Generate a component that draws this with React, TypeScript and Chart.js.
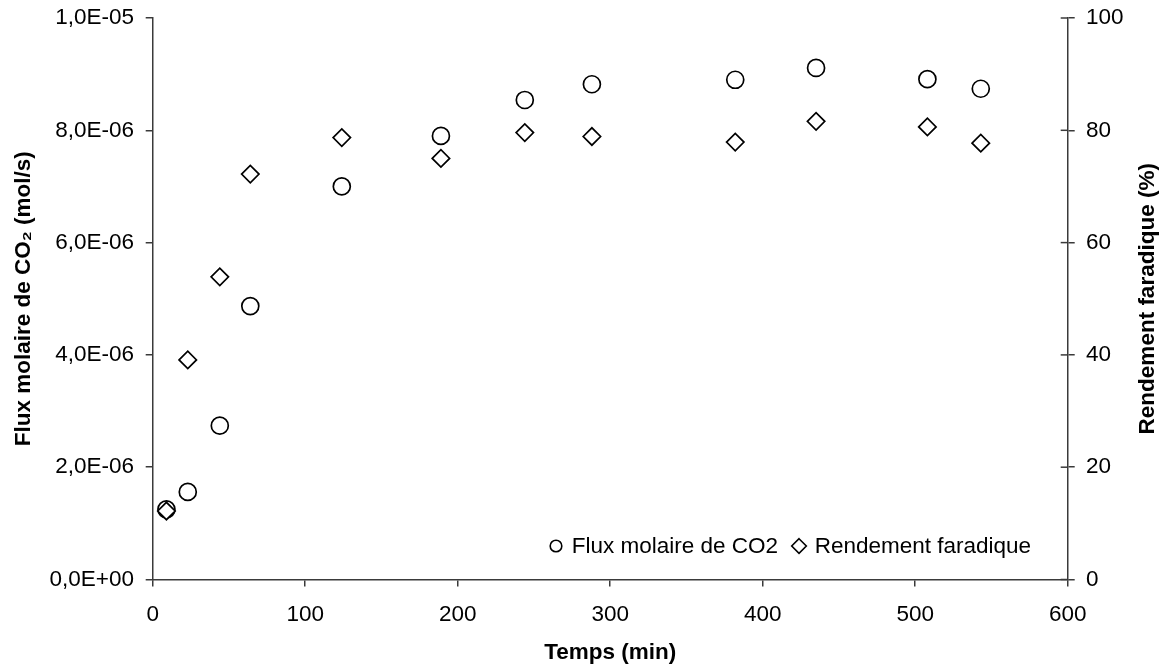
import { useEffect, useRef } from 'react';
import { Chart, registerables } from 'chart.js';

Chart.register(...registerables);

// ---- data ----
const timeMin = [9, 23, 44, 64, 124, 189, 244, 288, 382, 435, 508, 543];
const fluxCO2 = [1.25e-6, 1.56e-6, 2.74e-6, 4.87e-6, 7.0e-6, 7.9e-6, 8.54e-6, 8.82e-6, 8.9e-6, 9.11e-6, 8.91e-6, 8.74e-6];
const rendement = [12.2, 39.1, 53.9, 72.2, 78.7, 75.0, 79.6, 78.9, 77.9, 81.6, 80.6, 77.7];
const seriesLabels = ['Flux molaire de CO2', 'Rendement faradique'];
const xTitle = 'Temps (min)';
const yTitle = 'Flux molaire de CO₂ (mol/s)';
const y1Title = 'Rendement faradique (%)';
const xTicks = { min: 0, max: 600, step: 100 };
const yTicks = { min: 0, max: 1e-5, step: 2e-6 };
const y1Ticks = { min: 0, max: 100, step: 20 };

const FAMILY = '"Liberation Sans", Arial, Helvetica, sans-serif';
const FS = 22.5;
const AXIS = '#3a3a3a';

function sci(v: number): string {
  const [m, e] = v.toExponential(1).split('e');
  const n = parseInt(e, 10);
  const sign = n < 0 ? '-' : '+';
  return m.replace('.', ',') + 'E' + sign + String(Math.abs(n)).padStart(2, '0');
}

const extrasPlugin = {
  id: 'extras',
  afterDraw(chart: any) {
    const ctx = chart.ctx as CanvasRenderingContext2D;
    const area = chart.chartArea;
    ctx.save();
    // inner tick marks on the right axis (crossing ticks)
    const s = chart.scales.y1;
    ctx.strokeStyle = AXIS;
    ctx.lineWidth = 1.5;
    s.ticks.forEach((t: any) => {
      const py = s.getPixelForValue(t.value);
      ctx.beginPath();
      ctx.moveTo(area.right - 7, py);
      ctx.lineTo(area.right, py);
      ctx.stroke();
    });
    // right axis title, reading bottom to top
    ctx.save();
    ctx.font = `bold ${FS}px ${FAMILY}`;
    ctx.fillStyle = '#000';
    ctx.textAlign = 'center';
    ctx.textBaseline = 'middle';
    ctx.translate(chart.width - 18.5, (area.top + area.bottom) / 2);
    ctx.rotate(-Math.PI / 2);
    ctx.fillText(y1Title, 0, 0);
    ctx.restore();
    // legend inside plot area, bottom right
    ctx.font = `${FS}px ${FAMILY}`;
    ctx.fillStyle = '#000';
    ctx.strokeStyle = '#000';
    ctx.lineWidth = 1.6;
    ctx.textBaseline = 'middle';
    const y = area.bottom - 33.5;
    let x = area.left + 403.3;
    ctx.beginPath();
    ctx.arc(x, y, 5.8, 0, Math.PI * 2);
    ctx.stroke();
    const tx = x + 15.7;
    ctx.fillText(seriesLabels[0], tx, y + 1);
    const w = ctx.measureText(seriesLabels[0]).width;
    x = tx + w + 21;
    const r = 7.3;
    ctx.beginPath();
    ctx.moveTo(x, y - r);
    ctx.lineTo(x + r, y);
    ctx.lineTo(x, y + r);
    ctx.lineTo(x - r, y);
    ctx.closePath();
    ctx.stroke();
    ctx.fillText(seriesLabels[1], x + 15.7, y + 1);
    ctx.restore();
  },
};

export default function App() {
  const ref = useRef<HTMLCanvasElement | null>(null);

  useEffect(() => {
    document.body.style.margin = '0';
    const canvas = ref.current;
    if (!canvas) return;
    const tickFont = { family: FAMILY, size: FS };
    const titleFont = { family: FAMILY, size: FS, weight: 'bold' as const };
    const grid = {
      display: true,
      drawOnChartArea: false,
      drawTicks: true,
      tickLength: 7,
      color: AXIS,
      lineWidth: 1.5,
    };
    const border = { display: true, color: AXIS, width: 1.5 };

    const chart = new Chart(canvas, {
      type: 'scatter',
      data: {
        datasets: [
          {
            label: seriesLabels[1],
            data: timeMin.map((t, i) => ({ x: t, y: rendement[i] })),
            yAxisID: 'y1',
            pointStyle: 'rectRot',
            pointRadius: 8.7,
            pointHoverRadius: 8.7,
            borderColor: '#000',
            backgroundColor: '#fff',
            borderWidth: 1.7,
            order: 0,
          },
          {
            label: seriesLabels[0],
            data: timeMin.map((t, i) => ({ x: t, y: fluxCO2[i] })),
            yAxisID: 'y',
            pointStyle: 'circle',
            pointRadius: 8.5,
            pointHoverRadius: 8.5,
            borderColor: '#000',
            backgroundColor: '#fff',
            borderWidth: 1.7,
            order: 1,
          },
        ],
      },
      options: {
        responsive: false,
        animation: false,
        devicePixelRatio: 1,
        layout: { padding: { top: 18, left: 0, right: 0, bottom: 0 } },
        plugins: {
          legend: { display: false },
          tooltip: { enabled: false },
        },
        scales: {
          x: {
            type: 'linear',
            position: 'bottom',
            min: xTicks.min,
            max: xTicks.max,
            ticks: { stepSize: xTicks.step, font: tickFont, color: '#000', padding: 15, maxRotation: 0 },
            grid,
            border,
            title: { display: true, text: xTitle, font: titleFont, color: '#000', padding: { top: 0, bottom: 2.5 } },
            afterFit: (s: any) => { s.height = 89.5; s.paddingLeft = 0; s.paddingRight = 0; },
          },
          y: {
            type: 'linear',
            position: 'left',
            min: yTicks.min,
            max: yTicks.max,
            ticks: { stepSize: yTicks.step, font: tickFont, color: '#000', padding: 11.7, callback: (v: any) => sci(Number(v)) },
            grid,
            border,
            title: { display: true, text: yTitle, font: titleFont, color: '#000', padding: { top: 9.8, bottom: 0 } },
            afterFit: (s: any) => { s.width = 152.7; s.paddingTop = 0; s.paddingBottom = 0; },
          },
          y1: {
            type: 'linear',
            position: 'right',
            min: y1Ticks.min,
            max: y1Ticks.max,
            ticks: { stepSize: y1Ticks.step, font: tickFont, color: '#000', padding: 11.3 },
            grid,
            border,
            title: { display: false, text: y1Title },
            afterFit: (s: any) => { s.width = 98.3; s.paddingTop = 0; s.paddingBottom = 0; },
          },
        },
      },
      plugins: [extrasPlugin],
    } as any);
    return () => chart.destroy();
  }, []);

  return (
    <div style={{ width: 1166, height: 669, background: '#fff' }}>
      <canvas ref={ref} width={1166} height={669} style={{ display: 'block' }} />
    </div>
  );
}
